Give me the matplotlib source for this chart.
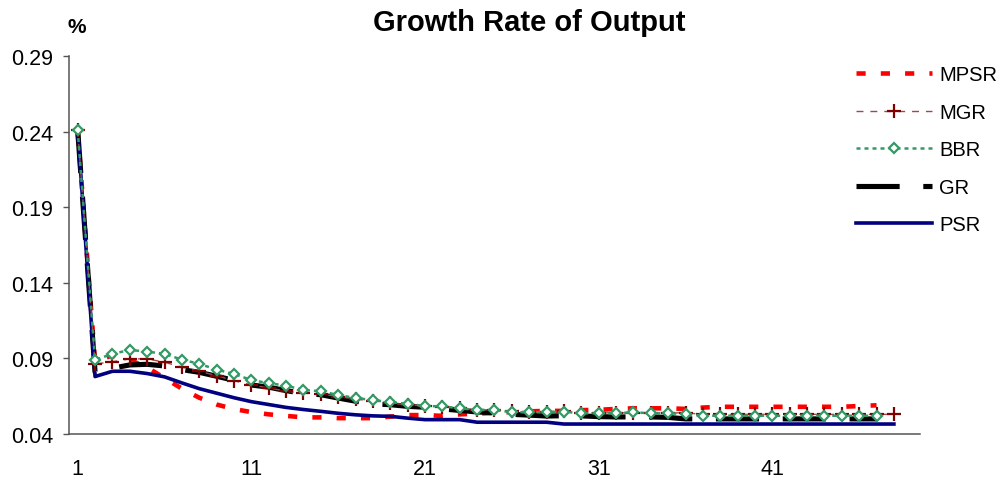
import numpy as np
from matplotlib import pyplot as plt

plt.rcParams['font.family'] = ['Liberation Sans', 'DejaVu Sans']

# series values (periods 1..n)
mpsr = [0.240, 0.088, 0.092, 0.089, 0.084, 0.077, 0.070, 0.064, 0.0595, 0.0565,
        0.0545, 0.053, 0.052, 0.051, 0.051, 0.0505, 0.0505, 0.0505, 0.0515, 0.0525,
        0.0525, 0.052, 0.053, 0.0535, 0.054, 0.0545, 0.055, 0.0553, 0.0553, 0.0558,
        0.056, 0.0566, 0.057, 0.057, 0.057, 0.0566, 0.0575, 0.058, 0.058, 0.058,
        0.058, 0.058, 0.058, 0.058, 0.058, 0.0585, 0.059]
mgr = [0.241, 0.0863, 0.0878, 0.0897, 0.0897, 0.0875, 0.0842, 0.0815, 0.0786, 0.0753,
       0.0724, 0.0705, 0.0683, 0.067, 0.0665, 0.0647, 0.0632, 0.0617, 0.0603, 0.0594,
       0.0587, 0.058, 0.057, 0.056, 0.0559, 0.055, 0.0548, 0.0548, 0.055, 0.054,
       0.054, 0.054, 0.054, 0.054, 0.054, 0.054, 0.053, 0.053, 0.053, 0.053,
       0.053, 0.053, 0.053, 0.053, 0.053, 0.053, 0.053, 0.053]
bbr = [0.241, 0.089, 0.093, 0.0956, 0.0945, 0.093, 0.0892, 0.0864, 0.0826, 0.0797,
       0.0757, 0.0736, 0.072, 0.0691, 0.0683, 0.0658, 0.0638, 0.0625, 0.061, 0.060,
       0.0585, 0.0583, 0.057, 0.0559, 0.0559, 0.0544, 0.0544, 0.0544, 0.0548, 0.0537,
       0.0537, 0.0537, 0.0544, 0.0537, 0.0537, 0.0532, 0.0521, 0.0521, 0.0521, 0.0521,
       0.0521, 0.0521, 0.0521, 0.0521, 0.0521, 0.0521, 0.0521]
gr = [0.241, 0.081, 0.0835, 0.0857, 0.0861, 0.085, 0.0826, 0.0808, 0.0782, 0.0755,
      0.0724, 0.071, 0.0687, 0.0668, 0.066, 0.0638, 0.0617, 0.0599, 0.0594, 0.0583,
      0.0577, 0.0566, 0.0556, 0.0546, 0.054, 0.053, 0.0525, 0.0519, 0.0521, 0.052,
      0.0515, 0.0513, 0.0513, 0.0513, 0.051, 0.050, 0.050, 0.050, 0.050, 0.050,
      0.050, 0.050, 0.050, 0.050, 0.050, 0.050, 0.050]
psr = [0.241, 0.078, 0.0815, 0.0815, 0.080, 0.0778, 0.0738, 0.070, 0.067, 0.064,
       0.0614, 0.0595, 0.0576, 0.0562, 0.055, 0.0537, 0.0527, 0.052, 0.0517, 0.0505,
       0.0495, 0.0495, 0.0495, 0.0478, 0.0478, 0.0478, 0.0478, 0.0478, 0.0466, 0.0466,
       0.0466, 0.0466, 0.0466, 0.0466, 0.0466, 0.0466, 0.0466, 0.0466, 0.0466, 0.0466,
       0.0466, 0.0466, 0.0466, 0.0466, 0.0466, 0.0466, 0.0466, 0.0466]

x_ticks = [1, 11, 21, 31, 41]
y_ticks = [0.04, 0.09, 0.14, 0.19, 0.24, 0.29]


def periods(series):
    return np.arange(1, len(series) + 1)


fig = plt.figure(figsize=(10.03, 4.81), dpi=100)
ax = fig.add_axes([0.0688, 0.0956, 0.8484, 0.7859])

l_mpsr, = ax.plot(periods(mpsr), mpsr, color='#ff0000', lw=3.3, dashes=(2.0, 3.3),
                  zorder=2, label='MPSR')
l_gr, = ax.plot(periods(gr), gr, color='black', lw=3.7, dashes=(8.4, 4.6),
                zorder=3, label='GR')
l_psr, = ax.plot(periods(psr), psr, color='#000080', lw=2.6, zorder=4, label='PSR')
l_mgr, = ax.plot(periods(mgr), mgr, color='#a04848', lw=1.0, dashes=(5, 5),
                 marker='+', ms=10, mew=1.6, mec='#800000', zorder=5, label='MGR')
l_bbr, = ax.plot(periods(bbr), bbr, color='#339966', lw=1.8, dashes=(1.6, 1.6),
                 marker='D', ms=5.3, mew=1.6, mfc='white', mec='#339966', zorder=6,
                 label='BBR')

ax.set_xlim(0.5, 49.5)
ax.set_ylim(0.04, 0.29)
ax.set_xticks(x_ticks)
ax.set_yticks(y_ticks)
ax.set_yticklabels(['%.2f' % v for v in y_ticks])
ax.tick_params(axis='y', length=4.5, width=1, color='#555555', pad=7, labelsize=15.5)
ax.tick_params(axis='x', length=0, pad=17, labelsize=15.5)
for side in ('top', 'right'):
    ax.spines[side].set_visible(False)
for side in ('left', 'bottom'):
    ax.spines[side].set_color('#555555')
    ax.spines[side].set_linewidth(1.1)

fig.text(0.528, 0.952, 'Growth Rate of Output', ha='center', va='center',
         fontsize=21, fontweight='bold')
fig.text(0.077, 0.942, '%', ha='center', va='center', fontsize=15, fontweight='bold')

ax.legend(handles=[l_mpsr, l_mgr, l_bbr, l_gr, l_psr], loc='upper left',
          bbox_to_anchor=(0.853, 0.862), bbox_transform=fig.transFigure,
          frameon=False, fontsize=14.5, handlelength=3.8, handletextpad=0.36,
          labelspacing=0.92, numpoints=1, borderaxespad=0, borderpad=0)

fig.savefig('out.png', dpi=100)
